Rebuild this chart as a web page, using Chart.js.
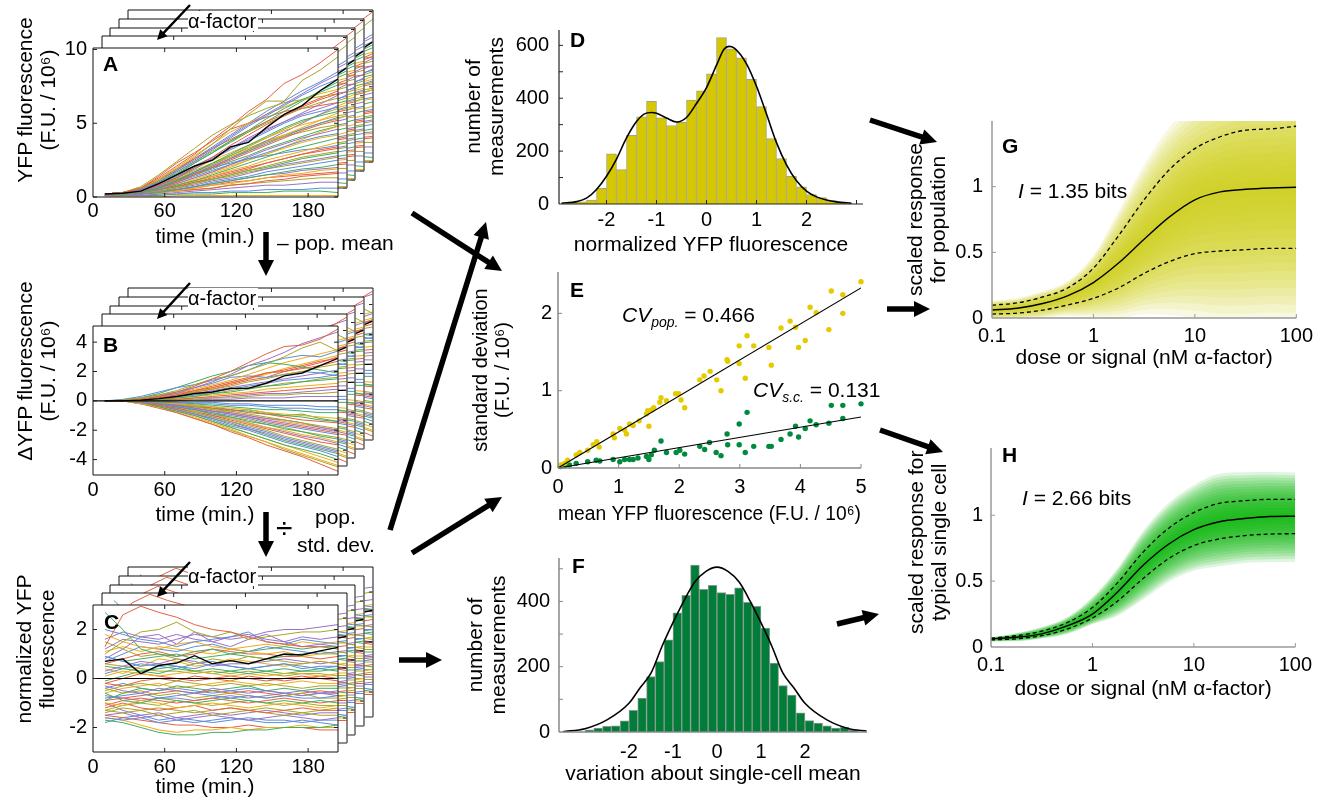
<!DOCTYPE html>
<html>
<head>
<meta charset="utf-8">
<title>Population vs single-cell response</title>
<script src="https://cdn.jsdelivr.net/npm/chart.js@4.4.1/dist/chart.umd.min.js"></script>
<style>
html, body { margin:0; padding:0; background:#fff; overflow:hidden; }
#stage { position:relative; width:1320px; height:806px; overflow:hidden; background:#fff; font-family:'Liberation Sans', Arial, Helvetica, sans-serif; }
#stage canvas { position:absolute; }
.t { position:absolute; white-space:nowrap; font-size:21px; line-height:1; color:#000; z-index:30; }
.t.b { font-weight:bold; }
.t sub { font-size:14px; vertical-align:-5px; line-height:0; font-style:italic; }
.af { background:#fff; padding:0 2px 0 0; font-size:20px; }
.yt { position:absolute; text-align:center; font-size:21px; line-height:23px; white-space:nowrap; transform:rotate(-90deg); z-index:30; color:#000; }
#arrows { position:absolute; left:0; top:0; z-index:20; }
</style>
</head>
<body>
<div id="stage">
  <svg id="arrows" width="1320" height="806"></svg>
  <span class="t b" style="left:103px;top:53px">A</span>
  <span class="t b" style="left:103px;top:334px">B</span>
  <span class="t b" style="left:104px;top:611px">C</span>
  <span class="t b" style="left:570px;top:29px">D</span>
  <span class="t b" style="left:570px;top:279px">E</span>
  <span class="t b" style="left:572px;top:555px">F</span>
  <span class="t b" style="left:1002px;top:135px">G</span>
  <span class="t b" style="left:1002px;top:444px">H</span>
  <span class="t af" style="left:188px;top:11px">α-factor</span>
  <span class="t af" style="left:188px;top:288px">α-factor</span>
  <span class="t af" style="left:188px;top:566px">α-factor</span>
  <span class="t" style="left:277px;top:232px">– pop. mean</span>
  <span class="t" style="left:276px;top:513px;font-size:30px">÷</span>
  <span class="t" style="left:315px;top:506px">pop.</span>
  <span class="t" style="left:297px;top:534px">std. dev.</span>
  <span class="t" style="left:622px;top:304px"><i>CV</i><sub>pop.</sub> = 0.466</span>
  <span class="t" style="left:753px;top:379px"><i>CV</i><sub>s.c.</sub> = 0.131</span>
  <span class="t" style="left:1018px;top:180px"><i>I</i> = 1.35 bits</span>
  <span class="t" style="left:1022px;top:487px"><i>I</i> = 2.66 bits</span>
  <div class="yt" style="left:-94.5px;top:77px;width:260px;height:46px;">YFP fluorescence<br>(F.U. / 10⁶)</div>
  <div class="yt" style="left:-94.5px;top:348px;width:260px;height:46px;">ΔYFP fluorescence<br>(F.U. / 10⁶)</div>
  <div class="yt" style="left:-95px;top:626px;width:260px;height:46px;">normalized YFP<br>fluorescence</div>
</div>
<script>
// ================= DATA =================
const timeMin = [10,25,40,55,70,85,100,115,130,145,160,175,190,205];
const timeTicks = [0,60,120,180];

// Panel A: YFP fluorescence (F.U./10^6) per cell
const cellsA = [
 [0.2,0.3,0.6,1.3,2.1,2.9,3.9,4.8,5.8,6.6,7.7,8.3,9.1,10.0],
 [0.2,0.3,0.6,1.1,1.9,2.7,3.6,4.6,5.6,6.5,6.5,7.9,8.6,9.5],
 [0.2,0.3,0.5,1.1,1.8,2.5,3.3,4.1,4.9,5.6,6.3,7.0,7.7,8.3],
 [0.2,0.3,0.5,1.0,1.7,2.4,3.2,4.0,4.8,5.5,6.2,6.9,7.5,8.0],
 [0.2,0.3,0.4,0.9,1.5,2.3,3.0,3.8,4.5,5.3,6.0,6.6,7.1,7.6],
 [0.2,0.3,0.6,1.2,2.0,2.8,3.6,4.4,5.0,5.6,6.1,6.6,7.0,7.3],
 [0.2,0.3,0.4,0.8,1.3,2.0,2.7,3.5,4.2,4.9,5.5,6.1,6.6,7.0],
 [0.2,0.3,0.5,1.0,1.7,2.4,3.1,3.8,4.4,5.0,5.5,6.0,6.4,6.7],
 [0.1,0.2,0.4,0.8,1.3,1.9,2.6,3.3,4.0,4.6,5.1,5.6,6.0,6.4],
 [0.2,0.3,0.5,0.9,1.4,2.0,2.6,3.2,3.8,4.4,5.0,5.5,5.8,6.1],
 [0.1,0.2,0.3,0.6,1.1,1.7,2.3,2.9,3.5,4.1,4.7,5.2,5.5,5.8],
 [0.2,0.3,0.5,0.9,1.4,1.9,2.5,3.0,3.5,4.0,4.5,4.9,5.2,5.5],
 [0.1,0.2,0.3,0.6,1.0,1.5,2.0,2.5,3.0,3.5,4.0,4.5,4.9,5.2],
 [0.2,0.3,0.4,0.8,1.2,1.7,2.2,2.7,3.2,3.7,4.1,4.4,4.7,4.9],
 [0.1,0.2,0.3,0.5,0.9,1.3,1.7,2.2,2.7,3.2,3.6,4.0,4.3,4.6],
 [0.1,0.2,0.3,0.6,1.0,1.4,1.8,2.2,2.6,3.0,3.4,3.8,4.1,4.3],
 [0.2,0.2,0.3,0.5,0.8,1.1,1.5,1.9,2.3,2.7,3.1,3.4,3.7,4.0],
 [0.1,0.2,0.3,0.5,0.8,1.1,1.4,1.8,2.1,2.5,2.8,3.1,3.4,3.7],
 [0.1,0.2,0.3,0.5,0.7,1.0,1.3,1.6,1.9,2.3,2.6,2.9,3.2,3.4],
 [0.2,0.2,0.3,0.4,0.6,0.9,1.2,1.5,1.8,2.1,2.4,2.7,2.9,3.1],
 [0.1,0.2,0.2,0.4,0.6,0.8,1.1,1.3,1.6,1.9,2.2,2.4,2.6,2.8],
 [0.1,0.2,0.2,0.4,0.5,0.7,1.0,1.2,1.4,1.7,1.9,2.1,2.3,2.5],
 [0.1,0.1,0.2,0.3,0.5,0.7,0.9,1.1,1.3,1.5,1.7,1.9,2.0,2.2],
 [0.1,0.2,0.2,0.3,0.4,0.6,0.8,0.9,1.1,1.3,1.5,1.6,1.8,1.9],
 [0.1,0.1,0.2,0.3,0.4,0.5,0.6,0.8,0.9,1.1,1.2,1.4,1.5,1.6],
 [0.1,0.1,0.2,0.3,0.4,0.5,0.6,0.8,0.9,1.0,1.1,1.2,1.3,1.3],
 [0.1,0.1,0.1,0.2,0.3,0.4,0.5,0.6,0.7,0.8,0.8,0.9,1.0,1.0],
 [0.1,0.1,0.1,0.2,0.2,0.3,0.3,0.4,0.4,0.5,0.5,0.5,0.6,0.6],
 [0.1,0.1,0.1,0.1,0.2,0.2,0.2,0.3,0.3,0.3,0.4,0.4,0.4,0.3],
 [0.0,0.0,0.0,0.0,0.1,0.1,0.1,0.1,0.1,0.1,0.1,0.1,0.1,0.1],
 [0.2,0.3,0.6,1.4,2.3,3.0,3.8,4.6,5.0,5.4,5.8,6.0,6.2,6.4],
 [0.2,0.3,0.7,1.5,2.4,3.3,4.2,4.9,5.5,6.0,6.4,6.6,6.8,7.0],
 [0.1,0.2,0.4,0.7,1.1,1.6,2.1,2.6,3.2,3.8,4.4,5.0,5.6,6.2],
 [0.2,0.3,0.5,0.8,1.2,1.6,2.0,2.3,2.6,2.8,3.0,3.2,3.3,3.5],
 [0.1,0.2,0.3,0.5,0.7,1.0,1.2,1.5,1.8,2.0,2.3,2.6,2.8,3.0],
 [0.2,0.2,0.3,0.5,0.8,1.2,1.6,2.0,2.5,2.9,3.4,3.9,4.4,4.8],
 [0.2,0.3,0.6,1.2,1.9,2.6,3.3,3.9,4.5,5.1,5.6,6.2,6.7,7.2],
 [0.1,0.2,0.4,0.8,1.2,1.7,2.2,2.8,3.4,4.0,4.6,5.1,5.6,6.0],
 [0.2,0.3,0.5,0.9,1.5,2.1,2.7,3.3,3.9,4.5,5.1,5.7,6.3,6.9],
 [0.1,0.2,0.3,0.7,1.1,1.6,2.1,2.6,3.1,3.6,4.1,4.6,5.0,5.4],
 [0.2,0.3,0.4,0.7,1.1,1.5,1.9,2.4,2.8,3.3,3.7,4.1,4.5,4.8],
 [0.1,0.2,0.3,0.6,0.9,1.3,1.7,2.1,2.5,2.9,3.3,3.7,4.0,4.2],
 [0.2,0.2,0.3,0.5,0.8,1.1,1.4,1.7,2.0,2.3,2.6,2.9,3.1,3.3],
 [0.1,0.2,0.3,0.5,0.7,0.9,1.2,1.4,1.7,1.9,2.1,2.3,2.5,2.7],
 [0.1,0.2,0.2,0.4,0.5,0.7,0.9,1.1,1.3,1.5,1.6,1.8,1.9,2.0],
 [0.2,0.3,0.6,1.1,1.8,2.6,3.4,4.2,5.0,5.8,6.5,7.2,7.8,8.5],
 [0.2,0.3,0.5,1.0,1.6,2.3,3.0,3.7,4.4,5.1,5.8,6.5,7.2,7.8],
 [0.1,0.2,0.3,0.6,1.0,1.5,2.0,2.6,3.1,3.7,4.2,4.7,5.2,5.7],
 [0.1,0.1,0.2,0.3,0.5,0.6,0.8,1.0,1.1,1.3,1.4,1.5,1.6,1.7],
 [0.2,0.3,0.5,0.9,1.3,1.8,2.3,2.8,3.3,3.8,4.2,4.6,5.0,5.3]
];
const highlightA = [0.2,0.25,0.4,0.9,1.5,2.1,2.5,3.4,3.7,4.7,5.6,6.2,7.2,8.0];
const ticksYA = [0,5,10];

// Panel B: deviation from population mean
const cellsB = [
 [0,0,0.1,0.3,0.6,1.0,1.5,2.0,2.6,3.2,3.7,3.8,4.2,4.9],
 [0,0.05,0.2,0.4,0.7,1.1,1.5,1.7,2.1,2.5,3.0,3.6,4.0,3.4],
 [0,0,0.1,0.3,0.5,0.9,1.3,1.8,2.4,2.8,3.3,3.9,4.3,4.7],
 [0,0.1,0.3,0.6,0.9,1.1,1.4,1.7,2.1,2.6,2.9,3.1,3.0,3.4],
 [0,0.05,0.2,0.5,0.9,1.3,1.7,2.0,2.4,2.6,2.5,2.3,2.1,1.9],
 [0,0,0.1,0.3,0.5,0.8,1.1,1.4,1.8,2.2,2.6,2.9,3.2,3.5],
 [0,0,0.1,0.2,0.4,0.7,0.9,1.2,1.5,1.9,2.1,2.4,2.7,2.9],
 [0,0,0.1,0.2,0.4,0.6,0.8,1.0,1.3,1.5,1.8,2.0,2.3,2.5],
 [0,0,0.1,0.2,0.3,0.5,0.7,0.9,1.1,1.3,1.5,1.7,1.9,2.1],
 [0,0,0.1,0.2,0.3,0.4,0.6,0.8,1.0,1.2,1.4,1.5,1.6,1.8],
 [0,0,0,0.1,0.2,0.3,0.5,0.6,0.8,1.0,1.1,1.3,1.4,1.5],
 [0,0,0,0.1,0.2,0.3,0.4,0.5,0.6,0.8,0.9,1.0,1.1,1.2],
 [0,0,0,0.1,0.1,0.2,0.3,0.4,0.5,0.6,0.7,0.8,0.9,1.0],
 [0,0,0,0,0.1,0.1,0.2,0.2,0.3,0.4,0.4,0.5,0.5,0.6],
 [0,0,0,0,0,0.1,0.1,0.1,0.2,0.2,0.2,0.3,0.3,0.3],
 [0,0,0,0,-0.1,-0.1,-0.1,-0.2,-0.2,-0.3,-0.3,-0.3,-0.4,-0.4],
 [0,0,0,-0.1,-0.1,-0.2,-0.3,-0.4,-0.5,-0.6,-0.6,-0.7,-0.8,-0.8],
 [0,0,0,-0.1,-0.2,-0.3,-0.4,-0.5,-0.6,-0.8,-0.9,-1.0,-1.1,-1.2],
 [0,0,0,-0.1,-0.2,-0.3,-0.5,-0.6,-0.8,-0.9,-1.1,-1.3,-1.4,-1.5],
 [0,0,0,-0.1,-0.2,-0.4,-0.6,-0.7,-0.9,-1.1,-1.3,-1.5,-1.7,-1.9],
 [0,0,-0.1,-0.2,-0.3,-0.5,-0.7,-0.9,-1.1,-1.3,-1.5,-1.7,-1.9,-2.1],
 [0,0,-0.1,-0.2,-0.4,-0.6,-0.8,-1.0,-1.2,-1.5,-1.7,-1.9,-2.1,-2.3],
 [0,0,-0.1,-0.2,-0.4,-0.6,-0.9,-1.1,-1.4,-1.6,-1.9,-2.1,-2.4,-2.6],
 [0,0,-0.1,-0.2,-0.4,-0.7,-0.9,-1.2,-1.5,-1.8,-2.0,-2.3,-2.5,-2.8],
 [0,0,-0.1,-0.3,-0.5,-0.7,-1.0,-1.3,-1.6,-1.9,-2.2,-2.5,-2.8,-3.0],
 [0,0,-0.1,-0.3,-0.5,-0.8,-1.1,-1.4,-1.7,-2.0,-2.4,-2.7,-3.0,-3.3],
 [0,0,-0.1,-0.3,-0.6,-0.9,-1.2,-1.5,-1.9,-2.2,-2.6,-2.9,-3.2,-3.5],
 [0,0,-0.1,-0.3,-0.6,-0.9,-1.3,-1.7,-2.0,-2.4,-2.8,-3.1,-3.4,-3.8],
 [0,0,-0.1,-0.4,-0.7,-1.0,-1.4,-1.8,-2.2,-2.6,-3.0,-3.3,-3.6,-4.0],
 [0,0,-0.2,-0.4,-0.7,-1.1,-1.5,-1.9,-2.4,-2.8,-3.2,-3.6,-4.0,-4.4],
 [0,0,-0.2,-0.5,-0.8,-1.2,-1.6,-2.1,-2.5,-3.0,-3.4,-3.8,-4.3,-4.8],
 [0,0,-0.2,-0.4,-0.8,-1.2,-1.6,-2.0,-2.4,-2.8,-3.3,-3.7,-4.1,-4.5],
 [0,0,0,-0.1,-0.3,-0.5,-0.7,-0.8,-1.0,-1.2,-1.3,-1.5,-1.8,-2.0],
 [0,0.05,0.2,0.4,0.6,0.9,1.2,1.6,1.7,1.6,1.8,2.0,1.9,1.7],
 [0,0,-0.1,-0.2,-0.3,-0.4,-0.5,-0.7,-0.6,-0.8,-1.0,-0.9,-1.2,-1.4],
 [0,0,0.1,0.2,0.4,0.6,0.9,1.2,1.5,1.8,2.2,2.5,2.8,3.1],
 [0,0,0.1,0.3,0.5,0.7,1.0,1.3,1.6,1.9,2.0,2.2,2.4,2.7],
 [0,0,0,0.1,0.2,0.4,0.5,0.7,0.9,1.0,1.2,1.3,1.5,1.6],
 [0,0,0,0.1,0.1,0.2,0.2,0.3,0.4,0.5,0.5,0.6,0.7,0.8],
 [0,0,0,-0.1,-0.1,-0.2,-0.2,-0.3,-0.3,-0.4,-0.5,-0.5,-0.6,-0.6],
 [0,0,-0.1,-0.1,-0.2,-0.3,-0.4,-0.6,-0.7,-0.9,-1.0,-1.1,-1.3,-1.4],
 [0,0,-0.1,-0.2,-0.3,-0.4,-0.6,-0.8,-1.0,-1.2,-1.4,-1.6,-1.8,-2.0],
 [0,0,-0.1,-0.2,-0.3,-0.5,-0.7,-0.9,-1.1,-1.4,-1.6,-1.8,-2.0,-2.2],
 [0,0,-0.1,-0.2,-0.4,-0.6,-0.8,-1.1,-1.3,-1.6,-1.8,-2.1,-2.3,-2.5],
 [0,0,-0.1,-0.2,-0.4,-0.7,-1.0,-1.2,-1.5,-1.8,-2.1,-2.4,-2.6,-2.9],
 [0,0,-0.1,-0.3,-0.5,-0.8,-1.1,-1.4,-1.8,-2.1,-2.5,-2.8,-3.1,-3.4],
 [0,0,-0.1,-0.3,-0.6,-0.9,-1.2,-1.6,-1.9,-2.3,-2.7,-3.0,-3.3,-3.6],
 [0,0,-0.2,-0.4,-0.7,-1.0,-1.4,-1.8,-2.2,-2.6,-3.0,-3.4,-3.8,-4.2],
 [0,0,0.1,0.2,0.4,0.6,0.8,1.1,1.4,1.6,2.0,2.3,2.6,3.0]
];
const highlightB = [0,0,0.05,0.15,0.3,0.5,0.6,0.85,0.85,1.2,1.7,1.9,2.4,2.9];
const popMeanTime = [0,205];
const popMeanB = [0,0];
const ticksYB = [-4,-2,0,2,4];

// Panel C: normalized (deviation / pop. std. dev.)
const cellsC = [
 [1.3,2.6,2.95,2.7,2.5,2.2,2.0,1.9,1.7,1.5,1.4,1.3,1.3,1.2],
 [1.0,1.5,1.9,2.0,2.3,1.9,1.7,1.9,1.6,1.7,1.8,1.9,1.9,2.0],
 [1.2,1.6,1.5,1.4,1.6,1.8,1.7,1.6,1.7,1.9,2.0,2.0,2.1,2.2],
 [2.0,1.8,1.6,1.5,1.3,1.5,1.6,1.7,1.9,1.5,1.4,1.6,1.5,1.4],
 [2.7,2.0,1.2,1.0,0.9,1.1,1.2,1.0,1.1,1.2,1.3,1.2,1.3,1.3],
 [1.8,1.5,1.3,1.2,1.4,1.5,1.3,1.2,1.1,1.0,1.1,0.9,1.0,1.0],
 [0.6,0.8,1.0,1.1,0.9,1.0,1.2,1.1,1.0,1.0,0.9,0.9,0.8,0.9],
 [1.5,1.2,0.9,1.0,0.8,0.6,0.8,0.7,0.9,0.8,0.7,0.6,0.7,0.6],
 [0.3,0.5,0.7,0.6,0.8,0.7,0.5,0.6,0.6,0.7,0.8,0.7,0.6,0.7],
 [0.9,0.7,0.5,0.6,0.5,0.4,0.6,0.5,0.4,0.5,0.6,0.5,0.4,0.5],
 [0.5,0.4,0.3,0.4,0.5,0.3,0.4,0.3,0.2,0.3,0.4,0.3,0.3,0.4],
 [0.1,0.3,0.2,0.1,0.2,0.3,0.2,0.1,0.2,0.1,0.2,0.2,0.1,0.2],
 [-0.2,0.0,0.2,0.1,0.0,-0.1,0.0,0.1,0.0,-0.1,0.0,0.1,0.0,-0.1],
 [-0.5,-0.3,-0.2,-0.3,-0.1,-0.2,-0.3,-0.2,-0.3,-0.2,-0.3,-0.4,-0.3,-0.3],
 [-0.3,-0.5,-0.6,-0.4,-0.5,-0.6,-0.4,-0.5,-0.6,-0.5,-0.6,-0.5,-0.6,-0.5],
 [-0.8,-0.7,-0.6,-0.8,-0.7,-0.6,-0.7,-0.8,-0.7,-0.8,-0.7,-0.8,-0.8,-0.7],
 [-0.6,-0.9,-1.0,-0.8,-0.9,-1.0,-0.9,-0.8,-0.9,-1.0,-0.9,-1.0,-0.9,-1.0],
 [-1.0,-1.1,-0.9,-1.0,-1.2,-1.1,-1.0,-1.1,-1.2,-1.1,-1.0,-1.1,-1.2,-1.1],
 [-1.2,-1.0,-1.2,-1.3,-1.2,-1.1,-1.3,-1.2,-1.3,-1.4,-1.3,-1.2,-1.3,-1.3],
 [-1.3,-1.4,-1.3,-1.5,-1.4,-1.3,-1.5,-1.4,-1.3,-1.4,-1.5,-1.4,-1.5,-1.5],
 [-1.5,-1.4,-1.6,-1.5,-1.7,-1.6,-1.5,-1.6,-1.7,-1.6,-1.5,-1.6,-1.7,-1.6],
 [-1.6,-1.7,-1.6,-1.8,-1.7,-1.8,-1.7,-1.6,-1.7,-1.8,-1.8,-1.7,-1.8,-1.9],
 [-1.7,-1.8,-2.0,-2.2,-2.3,-2.3,-2.2,-2.2,-2.1,-2.1,-2.0,-2.0,-2.0,-1.9],
 [-1.6,-1.7,-1.9,-2.1,-2.2,-2.1,-2.1,-2.0,-2.1,-2.0,-2.0,-1.9,-2.0,-2.0],
 [-1.5,-1.6,-1.7,-1.8,-1.9,-1.9,-2.0,-2.0,-1.9,-2.0,-2.0,-2.0,-2.1,-2.1],
 [-0.4,-0.6,-0.5,-0.7,-0.6,-0.8,-0.7,-0.6,-0.7,-0.8,-0.7,-0.6,-0.8,-0.8],
 [0.8,1.2,1.7,1.8,1.4,1.9,1.5,1.3,1.6,1.8,1.5,1.3,1.4,1.3],
 [0.7,1.0,1.3,1.2,1.1,1.3,1.4,1.2,1.1,1.3,1.2,1.1,1.0,1.1],
 [-0.9,-0.6,-0.4,-0.5,-0.3,-0.4,-0.5,-0.4,-0.3,-0.5,-0.4,-0.5,-0.4,-0.4],
 [0.4,0.2,0.5,0.8,0.7,0.5,0.6,0.8,0.7,0.6,0.5,0.6,0.7,0.6],
 [-1.1,-0.9,-0.8,-0.9,-1.0,-0.9,-0.8,-0.9,-1.0,-0.9,-0.8,-0.9,-1.0,-0.9],
 [-1.4,-1.2,-1.3,-1.2,-1.3,-1.4,-1.3,-1.2,-1.3,-1.2,-1.3,-1.4,-1.3,-1.2],
 [1.6,1.9,1.7,1.6,1.8,1.6,1.5,1.7,1.8,1.6,1.5,1.7,1.6,1.7],
 [0.2,0.4,0.6,0.5,0.4,0.6,0.7,0.5,0.4,0.5,0.6,0.4,0.5,0.5],
 [-0.1,0.1,0.3,0.2,0.4,0.3,0.2,0.3,0.4,0.3,0.2,0.3,0.4,0.3],
 [-0.6,-0.4,-0.3,-0.2,-0.4,-0.3,-0.2,-0.1,-0.2,-0.3,-0.2,-0.1,-0.2,-0.2],
 [-0.9,-0.8,-0.7,-0.6,-0.5,-0.6,-0.5,-0.6,-0.5,-0.6,-0.7,-0.6,-0.5,-0.6],
 [-1.3,-1.1,-1.0,-1.1,-0.9,-1.0,-1.1,-1.0,-0.9,-1.0,-1.1,-1.0,-1.1,-1.1],
 [-1.0,-1.3,-1.5,-1.4,-1.6,-1.5,-1.4,-1.5,-1.4,-1.3,-1.4,-1.5,-1.4,-1.4],
 [-1.8,-1.6,-1.5,-1.7,-1.6,-1.7,-1.8,-1.7,-1.6,-1.7,-1.7,-1.8,-1.7,-1.7],
 [0.9,0.7,0.8,0.9,1.0,0.8,0.9,1.0,0.9,0.8,0.9,1.0,1.1,1.0],
 [1.1,1.3,1.1,1.3,1.2,1.1,1.0,1.2,1.3,1.4,1.3,1.5,1.4,1.5],
 [-0.2,-0.3,-0.1,0.0,-0.1,0.1,0.0,-0.1,0.1,0.0,-0.1,0.0,0.1,0.0],
 [0.6,0.5,0.4,0.3,0.3,0.2,0.3,0.2,0.3,0.2,0.1,0.2,0.2,0.1],
 [-0.7,-0.8,-0.9,-0.8,-0.8,-0.9,-0.8,-0.7,-0.8,-0.7,-0.6,-0.7,-0.6,-0.7],
 [-0.4,-0.2,-0.4,-0.5,-0.4,-0.5,-0.6,-0.5,-0.4,-0.5,-0.6,-0.7,-0.6,-0.6]
];
const highlightC = [0.7,0.8,0.2,0.53,0.63,0.93,0.6,0.73,0.6,0.8,1.0,0.96,1.13,1.27];
const popMeanC = [0,0];
const ticksYC = [-2,0,2];

// Panel D: histogram of normalized YFP fluorescence
const binsD = [-2.7,-2.5,-2.3,-2.1,-1.9,-1.7,-1.5,-1.3,-1.1,-0.9,-0.7,-0.5,-0.3,-0.1,0.1,0.3,0.5,0.7,0.9,1.1,1.3,1.5,1.7,1.9,2.1,2.3,2.5,2.7];
const countsD = [6,8,15,59,190,130,260,330,388,326,297,309,393,428,492,629,587,553,471,368,247,172,105,65,36,24,13,7];
const fitD_x = [-2.9,-2.6,-2.4,-2.2,-2.0,-1.8,-1.6,-1.4,-1.25,-1.1,-1.0,-0.8,-0.6,-0.4,-0.2,0,0.2,0.35,0.45,0.55,0.8,1.0,1.2,1.4,1.6,1.8,2.0,2.2,2.4,2.6,2.9];
const fitD_y = [3,9,22,55,105,170,250,312,340,346,343,325,310,327,380,440,525,585,596,590,530,445,340,232,148,88,49,27,15,8,3];
const ticksXD = [-2,-1,0,1,2];
const ticksYD = [0,200,400,600];

// Panel E: std. dev. vs mean
const meanPopE = [0.05,0.11,0.16,0.30,0.36,0.49,0.58,0.64,0.68,0.91,0.93,1.02,1.10,1.13,1.18,1.24,1.34,1.46,1.48,1.50,1.54,1.58,1.68,1.70,1.79,1.94,1.99,2.03,2.09,2.34,2.41,2.51,2.62,2.69,2.79,2.80,2.99,2.99,3.09,3.12,3.23,3.48,3.52,3.68,3.83,3.92,3.97,4.08,4.16,4.26,4.47,4.51,4.70,4.70,5.00];
const sdPopE = [0.04,0.06,0.10,0.17,0.20,0.23,0.30,0.34,0.27,0.44,0.39,0.51,0.49,0.44,0.57,0.55,0.61,0.70,0.74,0.54,0.75,0.78,0.85,0.91,0.87,0.96,0.96,0.88,0.78,1.14,1.19,1.25,1.14,1.00,1.40,1.38,1.58,1.35,1.16,1.71,1.58,1.56,1.33,1.81,1.90,1.82,1.56,1.65,2.08,2.01,1.79,2.29,2.24,2.00,2.41];
const meanScE = [0.04,0.11,0.19,0.30,0.49,0.63,0.69,0.91,1.02,1.10,1.18,1.24,1.32,1.46,1.50,1.54,1.59,1.70,1.79,1.95,2.01,2.09,2.34,2.42,2.50,2.61,2.69,2.79,2.80,2.99,2.99,3.09,3.12,3.23,3.48,3.52,3.68,3.83,3.92,3.97,4.08,4.16,4.26,4.47,4.51,4.70,4.70,5.00];
const sdScE = [0.02,0.03,0.04,0.06,0.08,0.10,0.09,0.11,0.08,0.11,0.11,0.11,0.13,0.15,0.11,0.17,0.23,0.35,0.20,0.20,0.23,0.18,0.28,0.24,0.33,0.20,0.16,0.44,0.30,0.57,0.30,0.20,0.72,0.28,0.28,0.28,0.37,0.44,0.54,0.40,0.51,0.61,0.56,0.58,0.81,0.64,0.81,0.83];
const fitE_x = [0,5];
const fitPopE_y = [0,2.33];
const fitScE_y = [0,0.66];
const ticksXE = [0,1,2,3,4,5];
const ticksYE = [0,1,2];

// Panel F: histogram of variation about single-cell mean
const binsF = [-2.9,-2.7,-2.5,-2.3,-2.1,-1.9,-1.7,-1.5,-1.3,-1.1,-0.9,-0.7,-0.5,-0.3,-0.1,0.1,0.3,0.5,0.7,0.9,1.1,1.3,1.5,1.7,1.9,2.1,2.3,2.5,2.7,2.9,3.1];
const countsF = [7,12,17,19,34,66,104,170,216,282,365,419,511,437,449,427,422,442,397,385,318,211,142,113,59,35,27,19,12,14,5];
const fitF_x = [-3.5,-3,-2.5,-2,-1.75,-1.5,-1.25,-1,-0.75,-0.5,-0.25,0,0.25,0.5,0.75,1,1.25,1.5,1.75,2,2.5,3,3.4];
const fitF_y = [1,10,37,88,135,180,262,335,402,460,492,505,492,460,402,335,262,180,135,88,37,10,3];
const ticksXF = [-2,-1,0,1,2];
const ticksYF = [0,200,400];

// Panels G and H: dose response
const doseNM = [0.1,0.178,0.316,0.562,1,1.78,3.16,5.62,10,17.8,31.6,56.2,100];
const popRespMean  = [0.061,0.074,0.11,0.17,0.27,0.42,0.60,0.77,0.90,0.96,0.98,0.99,0.995];
const popRespUpper = [0.098,0.115,0.16,0.23,0.38,0.63,0.90,1.13,1.29,1.38,1.43,1.44,1.46];
const popRespLower = [0.03,0.037,0.06,0.10,0.15,0.23,0.34,0.43,0.49,0.51,0.52,0.53,0.53];
const cellRespMean  = [0.062,0.074,0.10,0.16,0.25,0.42,0.62,0.78,0.89,0.95,0.975,0.99,0.993];
const cellRespUpper = [0.067,0.086,0.12,0.185,0.30,0.49,0.72,0.90,1.02,1.09,1.11,1.12,1.12];
const cellRespLower = [0.054,0.062,0.086,0.136,0.22,0.35,0.52,0.67,0.77,0.82,0.845,0.857,0.86];
const ticksXGH = [0.1,1,10,100];
const ticksYGH = [0,0.5,1];

// ================= RENDERING =================
Chart.defaults.font.family = "'Liberation Sans', Arial, Helvetica, sans-serif";
Chart.defaults.color = '#000';

const stage = document.getElementById('stage');
const frameCfg = new Map();

const framePlugin = {
  id: 'frameBox',
  beforeDraw(chart) {
    const f = frameCfg.get(chart.canvas);
    if (!f || !f.fill) return;
    const a = chart.chartArea, ctx = chart.ctx;
    ctx.save();
    ctx.fillStyle = f.fill;
    ctx.fillRect(a.left, a.top, a.right - a.left, a.bottom - a.top);
    ctx.restore();
  },
  afterDatasetsDraw(chart) {
    const f = frameCfg.get(chart.canvas);
    if (!f) return;
    const a = chart.chartArea, ctx = chart.ctx, xs = chart.scales.x, ys = chart.scales.y;
    const len = f.tickLen || 5;
    ctx.save();
    ctx.lineWidth = f.tickWidth || 1;
    ctx.strokeStyle = f.tickColor || '#222';
    ctx.beginPath();
    (f.xTicks || []).forEach(v => {
      const px = xs.getPixelForValue(v);
      (f.xTickSides || ['bottom']).forEach(s => {
        if (s === 'bottom') { ctx.moveTo(px, a.bottom); ctx.lineTo(px, a.bottom - len); }
        else { ctx.moveTo(px, a.top); ctx.lineTo(px, a.top + len); }
      });
    });
    (f.yTicks || []).forEach(v => {
      const py = ys.getPixelForValue(v);
      (f.yTickSides || ['left']).forEach(s => {
        if (s === 'left') { ctx.moveTo(a.left, py); ctx.lineTo(a.left + len, py); }
        else { ctx.moveTo(a.right, py); ctx.lineTo(a.right - len, py); }
      });
    });
    ctx.stroke();
    ['left','right','top','bottom'].forEach(side => {
      const st = f[side];
      if (!st) return;
      ctx.strokeStyle = st[0]; ctx.lineWidth = st[1];
      ctx.beginPath();
      if (side === 'left') { ctx.moveTo(a.left, a.top); ctx.lineTo(a.left, a.bottom); }
      if (side === 'right') { ctx.moveTo(a.right, a.top); ctx.lineTo(a.right, a.bottom); }
      if (side === 'top') { ctx.moveTo(a.left, a.top); ctx.lineTo(a.right, a.top); }
      if (side === 'bottom') { ctx.moveTo(a.left, a.bottom); ctx.lineTo(a.right, a.bottom); }
      ctx.stroke();
    });
    ctx.restore();
  }
};
Chart.register(framePlugin);

function mkCanvas(left, top, w, h, z) {
  const c = document.createElement('canvas');
  c.width = w; c.height = h;
  c.style.left = left + 'px'; c.style.top = top + 'px';
  c.style.width = w + 'px'; c.style.height = h + 'px';
  c.style.zIndex = z;
  stage.appendChild(c);
  return c;
}

function pts(xs, ys) { return xs.map((x, i) => ({ x: x, y: ys[i] })); }

function lineDs(xs, ys, color, w, extra) {
  return Object.assign({ type: 'line', data: pts(xs, ys), borderColor: color, borderWidth: w,
    pointRadius: 0, tension: 0, fill: false }, extra || {});
}

const lineColors = ['#e5603f','#a8a626','#9a72c6','#5a8dd8','#43ad5e','#efad14'];

function trajDatasets(cells, highlight, meanVals) {
  const ds = [lineDs(timeMin, highlight, '#000', 1.4)];
  if (meanVals) ds.push(lineDs(popMeanTime, meanVals, '#000', 1.1));
  cells.forEach((row, i) => ds.push(lineDs(timeMin, row, lineColors[i % lineColors.length], 1)));
  return ds;
}

function makePanel(p) {
  const yW = p.L - p.canvasLeft;
  const w = yW + (p.R - p.L) + p.padR;
  const h = p.padT + (p.B - p.T) + p.xH;
  const c = mkCanvas(p.canvasLeft, p.T - p.padT, w, h, 5);
  frameCfg.set(c, p.frame);
  const tickFont = { size: 20 };
  const titleFont = { size: p.titleSize || 21, lineHeight: 1.1 };
  return new Chart(c, {
    type: p.type,
    data: { datasets: p.datasets },
    options: {
      responsive: false, maintainAspectRatio: false, animation: false, events: [],
      layout: { padding: { left: 0, top: p.padT, right: p.padR, bottom: 0 } },
      plugins: { legend: { display: false }, tooltip: { enabled: false } },
      scales: {
        x: {
          type: p.xType || 'linear', min: p.xMin, max: p.xMax, offset: false,
          grid: { display: false, drawTicks: false }, border: { display: false },
          ticks: { padding: p.xPad, font: tickFont, color: '#000', autoSkip: false, maxRotation: 0, minRotation: 0,
                   callback: (v) => String(v) },
          afterBuildTicks: (s) => { s.ticks = p.xTicks.map(v => ({ value: v })); },
          afterFit: (s) => { s.height = p.xH; },
          title: { display: true, text: p.xTitle, font: titleFont, color: '#000', padding: 0 }
        },
        y: {
          type: 'linear', min: p.yMin, max: p.yMax,
          grid: { display: false, drawTicks: false }, border: { display: false },
          ticks: { padding: p.yPad, font: tickFont, color: '#000', autoSkip: false, callback: (v) => String(v) },
          afterBuildTicks: (s) => { s.ticks = p.yTicks.map(v => ({ value: v })); },
          afterFit: (s) => { s.width = yW; },
          title: { display: !!p.yTitle, text: p.yTitle || '', font: titleFont, color: '#000', padding: 0 }
        }
      }
    }
  });
}

function makeBackFrames(p, dsFactory) {
  for (let k = 4; k >= 1; k--) {
    const off = 8.7 * k;
    const left = Math.round(p.L + off) - 1, top = Math.round(p.T - off) - 1;
    const w = (p.R - p.L) + 2, h = (p.B - p.T) + 2;
    const c = mkCanvas(left, top, w, h, 5 - k);
    frameCfg.set(c, { fill: '#fff', top: ['#111', 1], left: ['#111', 1], right: ['#6a6a6a', 1.6], bottom: ['#6a6a6a', 1.6],
      xTicks: p.xTicks.slice(1), xTickSides: ['top'], yTicks: p.yTicks, yTickSides: ['right'], tickLen: 4 });
    new Chart(c, {
      type: 'line', data: { datasets: dsFactory() },
      options: { responsive: false, animation: false, events: [], layout: { padding: 1 },
        plugins: { legend: { display: false }, tooltip: { enabled: false } },
        scales: { x: { type: 'linear', min: p.xMin, max: p.xMax, display: false },
                  y: { type: 'linear', min: p.yMin, max: p.yMax, display: false } } }
    });
  }
}

function frontFrame(yT) {
  return { fill: '#fff', left: ['#111', 1], right: ['#111', 1], top: ['#111', 1], bottom: ['#111', 1],
    xTicks: [60,120,180], xTickSides: ['bottom','top'], yTicks: yT, yTickSides: ['left','right'], tickLen: 4 };
}

// ---- Panels A, B, C ----
const trajPanels = [
  { L:93, T:45,  R:338, B:197, xH:52, xPad:2, yMin:0,     yMax:10.1, yTicks:ticksYA, cells:cellsA, hl:highlightA, mean:null },
  { L:93, T:323, R:338, B:475, xH:52, xPad:3, yMin:-5.05, yMax:5.1,  yTicks:ticksYB, cells:cellsB, hl:highlightB, mean:popMeanB },
  { L:93, T:602, R:338, B:752, xH:47, xPad:3, yMin:-3,    yMax:3,    yTicks:ticksYC, cells:cellsC, hl:highlightC, mean:popMeanC }
];
trajPanels.forEach(tp => {
  const p = Object.assign({ canvasLeft: 12, padT: 15, padR: 22, yPad: 6, xMin: 0, xMax: 205, xTicks: timeTicks,
    xTitle: 'time (min.)\u2003', type: 'line' }, tp);
  makeBackFrames(p, () => trajDatasets(tp.cells, tp.hl, tp.mean));
  p.datasets = trajDatasets(tp.cells, tp.hl, tp.mean);
  p.frame = frontFrame(tp.yTicks);
  makePanel(p);
});

// ---- Panel D ----
makePanel({
  type: 'bar', L:559, T:23, R:863, B:204, canvasLeft:463, padT:15, padR:22, xH:53, xPad:4, yPad:10,
  xMin:-2.95, xMax:3.13, yMin:0, yMax:658, xTicks: ticksXD, yTicks: ticksYD,
  xTitle: 'normalized YFP fluorescence', yTitle: ['\u2003number of', '\u2003measurements'],
  frame: { left: ['#222', 1.2], bottom: ['#222', 1.2], xTicks: [-2,-1,0,1,2,3], yTicks: [100,200,300,400,500,600], tickLen: 4 },
  datasets: [
    lineDs(fitD_x, fitD_y, '#000', 1.6, { cubicInterpolationMode: 'monotone' }),
    { type: 'bar', data: pts(binsD, countsD), backgroundColor: '#d6c800', borderColor: '#a8a47a', borderWidth: 1,
      barPercentage: 1, categoryPercentage: 1 }
  ]
});

// ---- Panel E ----
makePanel({
  type: 'scatter', L:558, T:269, R:861, B:468, canvasLeft:470, padT:15, padR:22, xH:57, xPad:7, yPad:6,
  xMin:0, xMax:5, yMin:0, yMax:2.535, xTicks: ticksXE, yTicks: ticksYE, titleSize: 20,
  xTitle: 'mean YFP fluorescence (F.U. / 10⁶)', yTitle: ['standard deviation', '(F.U. / 10⁶)'],
  frame: { left: ['#888', 1.5], bottom: ['#888', 1.5], xTicks: [1,2,3,4,5], yTicks: [1,2], tickLen: 4, tickColor: '#888' },
  datasets: [
    lineDs(fitE_x, fitPopE_y, '#000', 1.1, { showLine: true }),
    lineDs(fitE_x, fitScE_y, '#000', 1.1, { showLine: true }),
    { type: 'scatter', data: pts(meanPopE, sdPopE), backgroundColor: '#e3cb00', borderWidth: 0, pointRadius: 2.7, clip: false },
    { type: 'scatter', data: pts(meanScE, sdScE), backgroundColor: '#008a3e', borderWidth: 0, pointRadius: 2.7, clip: false }
  ]
});

// ---- Panel F ----
makePanel({
  type: 'bar', L:559, T:552, R:867, B:732, canvasLeft:465, padT:15, padR:22, xH:54, xPad:8, yPad:9,
  xMin:-3.59, xMax:3.41, yMin:0, yMax:533, xTicks: ticksXF, yTicks: ticksYF,
  xTitle: 'variation about single-cell mean', yTitle: ['number of', 'measurements'],
  frame: { left: ['#888', 1.5], bottom: ['#888', 1.5], xTicks: [-2,-1,0,1,2], yTicks: [100,200,300,400,500], tickLen: 4, tickColor: '#888' },
  datasets: [
    lineDs(fitF_x, fitF_y, '#000', 1.6, { cubicInterpolationMode: 'monotone' }),
    { type: 'bar', data: pts(binsF, countsF), backgroundColor: '#017d3a', borderColor: '#8c9a90', borderWidth: 1,
      barPercentage: 1, categoryPercentage: 1 }
  ]
});

// ---- Panels G and H (shaded response distributions) ----
function responseDatasets(mean, up, lo, rgb, aMax, bMax, nLayers, alpha) {
  const ds = [
    lineDs(doseNM, mean, '#000', 1.4, { cubicInterpolationMode: 'monotone' }),
    lineDs(doseNM, up, '#000', 1.3, { cubicInterpolationMode: 'monotone', borderDash: [4, 3] }),
    lineDs(doseNM, lo, '#000', 1.3, { cubicInterpolationMode: 'monotone', borderDash: [4, 3] })
  ];
  for (let k = 0; k < nLayers; k++) {
    const f = 1 - k / nLayers;
    const a = aMax * f, b = bMax * f;
    ds.push({ type: 'line', data: doseNM.map((x, i) => ({ x: x, y: mean[i] + a * (up[i] - mean[i]) })),
      borderWidth: 0, borderColor: 'rgba(0,0,0,0)', pointRadius: 0, fill: false, cubicInterpolationMode: 'monotone' });
    ds.push({ type: 'line', data: doseNM.map((x, i) => ({ x: x, y: mean[i] - b * (mean[i] - lo[i]) })),
      borderWidth: 0, borderColor: 'rgba(0,0,0,0)', pointRadius: 0, fill: '-1',
      backgroundColor: 'rgba(' + rgb + ',' + alpha + ')', cubicInterpolationMode: 'monotone' });
  }
  return ds;
}

makePanel({
  type: 'line', xType: 'logarithmic', L:992, T:115, R:1301, B:318, canvasLeft:905, padT:15, padR:18, xH:52, xPad:6, yPad:9,
  xMin:0.1, xMax:100, yMin:0, yMax:1.5, xTicks: ticksXGH, yTicks: ticksYGH,
  xTitle: 'dose or signal (nM α-factor)', yTitle: ['scaled response', 'for population'],
  frame: { left: ['#999', 1.5], bottom: ['#999', 1.5], xTicks: [1,10,100], yTicks: [0.5,1], tickLen: 4, tickColor: '#999' },
  datasets: responseDatasets(popRespMean, popRespUpper, popRespLower, '196,196,0', 1.9, 2.2, 16, 0.11)
});

makePanel({
  type: 'line', xType: 'logarithmic', L:991, T:443, R:1298, B:647, canvasLeft:906, padT:15, padR:20, xH:54, xPad:6, yPad:8,
  xMin:0.1, xMax:100, yMin:0, yMax:1.51, xTicks: ticksXGH, yTicks: ticksYGH,
  xTitle: 'dose or signal (nM α-factor)', yTitle: ['\u2002scaled response for', '\u2002typical single cell'],
  frame: { left: ['#999', 1.5], bottom: ['#999', 1.5], xTicks: [1,10,100], yTicks: [0.5,1], tickLen: 4, tickColor: '#999' },
  datasets: responseDatasets(cellRespMean, cellRespUpper, cellRespLower, '0,176,0', 2.6, 2.6, 16, 0.13)
});

// ---- annotation arrows ----
const NS = 'http://www.w3.org/2000/svg';
const svg = document.getElementById('arrows');
function arrow(a, w, hl, hw) {
  const x1 = a[0], y1 = a[1], x2 = a[2], y2 = a[3];
  const dx = x2 - x1, dy = y2 - y1, len = Math.hypot(dx, dy), ux = dx / len, uy = dy / len, nx = -uy, ny = ux;
  const bx = x2 - ux * hl, by = y2 - uy * hl;
  const ln = document.createElementNS(NS, 'line');
  ln.setAttribute('x1', x1); ln.setAttribute('y1', y1);
  ln.setAttribute('x2', bx + ux * 2); ln.setAttribute('y2', by + uy * 2);
  ln.setAttribute('stroke', '#000'); ln.setAttribute('stroke-width', w);
  svg.appendChild(ln);
  const pg = document.createElementNS(NS, 'polygon');
  pg.setAttribute('points', x2 + ',' + y2 + ' ' + (bx + nx * hw) + ',' + (by + ny * hw) + ' ' + (bx - nx * hw) + ',' + (by - ny * hw));
  pg.setAttribute('fill', '#000');
  svg.appendChild(pg);
}
[[266,232,266,276],[266,512,266,557],[412,213,502,271],[390,530,486,222],[412,553,502,497],
 [399,660,442,660],[870,120,937,142],[887,309,930,309],[880,430,943,452],[837,624,879,614]]
  .forEach(a => arrow(a, 5.5, 16, 8));
[[190,5,157,40],[190,283,157,319],[190,562,157,597]].forEach(a => arrow(a, 2.4, 10, 5));
</script>
</body>
</html>
